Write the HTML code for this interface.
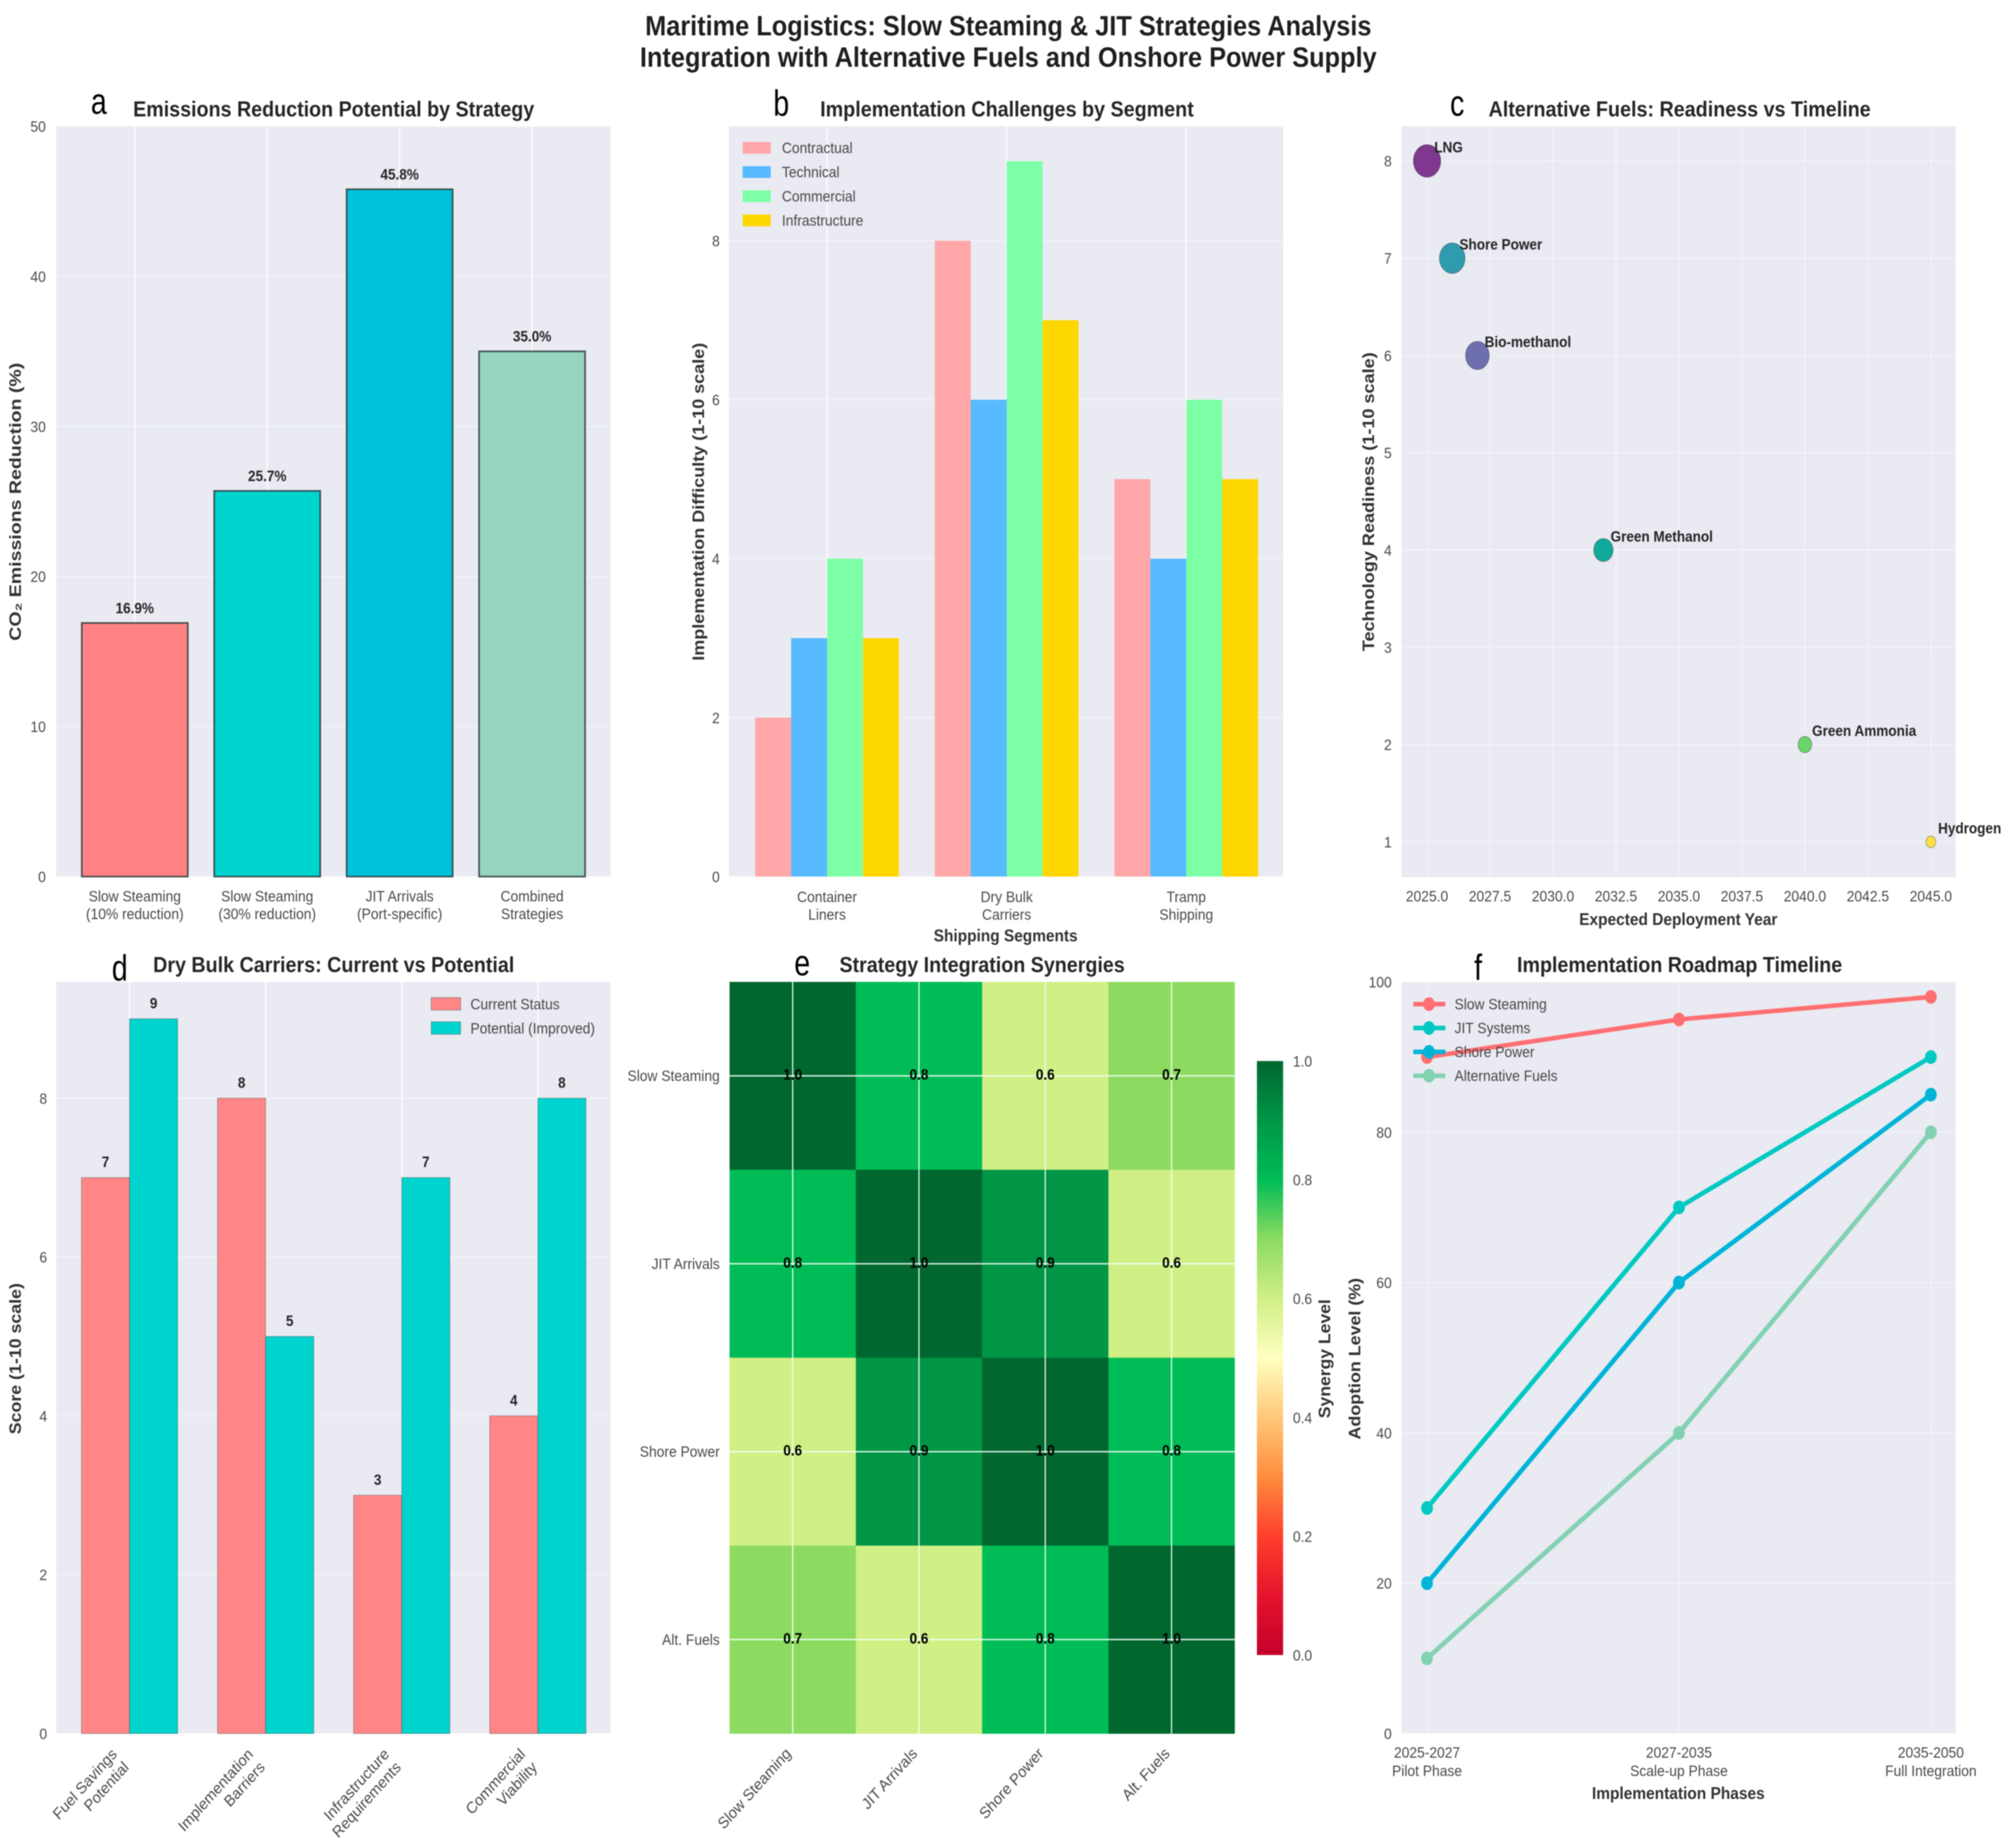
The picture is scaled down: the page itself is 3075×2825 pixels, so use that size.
<!DOCTYPE html>
<html lang="en">
<head>
<meta charset="utf-8">
<title>Maritime Logistics: Slow Steaming &amp; JIT Strategies Analysis</title>
<style>
html,body{margin:0;padding:0;background:#fff;}
svg{display:block;font-family:"Liberation Sans",Arial,sans-serif;filter:blur(0.7px);}
.main{font-size:43px;font-weight:700;fill:#1f1f1f;text-anchor:middle;}
.title{font-size:33px;font-weight:700;fill:#262626;text-anchor:middle;}
.letter{font-size:56px;fill:#000;text-anchor:middle;}
.ylabel{font-size:25px;font-weight:700;fill:#333;text-anchor:middle;}
.xlabel{font-size:26px;font-weight:700;fill:#333;text-anchor:middle;}
.tick{font-size:23.5px;fill:#4a4a4a;}
.rtick{font-size:24.5px;fill:#4a4a4a;}
.val{font-size:23px;font-weight:700;fill:#262626;}
.cell{font-size:23px;font-weight:700;fill:#000;}
</style>
</head>
<body>
<svg id="figure" width="3075" height="2825" viewBox="0 0 3075 2825" xmlns="http://www.w3.org/2000/svg">
  <defs>
    <linearGradient id="cbar-gradient" x1="0" y1="1" x2="0" y2="0"></linearGradient>
  </defs>
  <rect x="0" y="0" width="3075" height="2825" fill="#fff"/>

  <text class="main" x="1541" y="54" textLength="1110" lengthAdjust="spacingAndGlyphs">Maritime Logistics: Slow Steaming &amp; JIT Strategies Analysis</text>
  <text class="main" x="1541" y="102" textLength="1126" lengthAdjust="spacingAndGlyphs">Integration with Alternative Fuels and Onshore Power Supply</text>

  <g id="panel-a">
    <rect x="86" y="193" width="847" height="1147" fill="#e9eaf2"/>
    <text class="letter" transform="translate(151,174) scale(.78,1)">a</text>
    <text class="title" x="510" y="178" textLength="613" lengthAdjust="spacingAndGlyphs">Emissions Reduction Potential by Strategy</text>
    <text class="ylabel" transform="translate(32,767) rotate(-90)" textLength="425" lengthAdjust="spacingAndGlyphs">CO₂ Emissions Reduction (%)</text>
  </g>

  <g id="panel-b">
    <rect x="1114" y="193" width="847" height="1147" fill="#e9eaf2"/>
    <text class="letter" transform="translate(1194,177) scale(.78,1)">b</text>
    <text class="title" x="1539" y="178" textLength="571" lengthAdjust="spacingAndGlyphs">Implementation Challenges by Segment</text>
    <text class="ylabel" transform="translate(1076,767) rotate(-90)" textLength="486" lengthAdjust="spacingAndGlyphs">Implementation Difficulty (1-10 scale)</text>
    <text class="xlabel" x="1537" y="1439" textLength="220" lengthAdjust="spacingAndGlyphs">Shipping Segments</text>
  </g>

  <g id="panel-c">
    <rect x="2142" y="193" width="847" height="1148" fill="#e9eaf2"/>
    <text class="letter" transform="translate(2227,177) scale(.78,1)">c</text>
    <text class="title" x="2567" y="178" textLength="584" lengthAdjust="spacingAndGlyphs">Alternative Fuels: Readiness vs Timeline</text>
    <text class="ylabel" transform="translate(2100,767) rotate(-90)" textLength="457" lengthAdjust="spacingAndGlyphs">Technology Readiness (1-10 scale)</text>
    <text class="xlabel" x="2565" y="1414" textLength="303" lengthAdjust="spacingAndGlyphs">Expected Deployment Year</text>
  </g>

  <g id="panel-d">
    <rect x="86" y="1501" width="847" height="1149" fill="#e9eaf2"/>
    <text class="letter" transform="translate(183,1499) scale(.78,1)">d</text>
    <text class="title" x="510" y="1486" textLength="552" lengthAdjust="spacingAndGlyphs">Dry Bulk Carriers: Current vs Potential</text>
    <text class="ylabel" transform="translate(32,2077) rotate(-90)" textLength="231" lengthAdjust="spacingAndGlyphs">Score (1-10 scale)</text>
  </g>

  <g id="panel-e">
    <text class="letter" transform="translate(1226,1491) scale(.78,1)">e</text>
    <text class="title" x="1501" y="1486" textLength="436" lengthAdjust="spacingAndGlyphs">Strategy Integration Synergies</text>
    <rect x="1921" y="1622" width="40" height="908" fill="url(#cbar-gradient)"/>
    <text class="ylabel" transform="translate(2033,2077) rotate(-90)" textLength="182" lengthAdjust="spacingAndGlyphs">Synergy Level</text>
  </g>

  <g id="panel-f">
    <rect x="2142" y="1501" width="847" height="1149" fill="#e9eaf2"/>
    <text class="letter" transform="translate(2259,1498) scale(.78,1)">f</text>
    <text class="title" x="2567" y="1486" textLength="497" lengthAdjust="spacingAndGlyphs">Implementation Roadmap Timeline</text>
    <text class="ylabel" transform="translate(2079,2077) rotate(-90)" textLength="247" lengthAdjust="spacingAndGlyphs">Adoption Level (%)</text>
    <text class="xlabel" x="2565" y="2750" textLength="264" lengthAdjust="spacingAndGlyphs">Implementation Phases</text>
  </g>
</svg>

<script>
/* ---------- panel a data ---------- */
const strategyLabels = [["Slow Steaming","(10% reduction)"],["Slow Steaming","(30% reduction)"],["JIT Arrivals","(Port-specific)"],["Combined","Strategies"]];
const strategyReduction = [16.9, 25.7, 45.8, 35.0];
const strategyPrinted = ["16.9%","25.7%","45.8%","35.0%"];
const reductionTicks = [0,10,20,30,40,50];

/* ---------- panel b data ---------- */
const segmentLabels = [["Container","Liners"],["Dry Bulk","Carriers"],["Tramp","Shipping"]];
const challengeNames = ["Contractual","Technical","Commercial","Infrastructure"];
const contractualValues = [2,8,5];
const technicalValues = [3,6,4];
const commercialValues = [4,9,6];
const infrastructureValues = [3,7,5];
const difficultyTicks = [0,2,4,6,8];

/* ---------- panel c data ---------- */
const fuelNames = ["LNG","Shore Power","Bio-methanol","Green Methanol","Green Ammonia","Hydrogen"];
const fuelYears = [2025,2026,2027,2032,2040,2045];
const fuelReadiness = [8,7,6,4,2,1];
const yearTicks = [2025,2027.5,2030,2032.5,2035,2037.5,2040,2042.5,2045];
const readinessTicks = [1,2,3,4,5,6,7,8];

/* ---------- panel d data ---------- */
const bulkLabels = [["Fuel Savings","Potential"],["Implementation","Barriers"],["Infrastructure","Requirements"],["Commercial","Viability"]];
const bulkSeriesNames = ["Current Status","Potential (Improved)"];
const bulkCurrent = [7,8,3,4];
const bulkPotential = [9,5,7,8];
const scoreTicks = [0,2,4,6,8];

/* ---------- panel e data ---------- */
const synergyLabels = ["Slow Steaming","JIT Arrivals","Shore Power","Alt. Fuels"];
const synergyRow1 = [1.0,0.8,0.6,0.7];
const synergyRow2 = [0.8,1.0,0.9,0.6];
const synergyRow3 = [0.6,0.9,1.0,0.8];
const synergyRow4 = [0.7,0.6,0.8,1.0];
const colorbarTicks = [0,0.2,0.4,0.6,0.8,1.0];

/* ---------- panel f data ---------- */
const phaseLabels = [["2025-2027","Pilot Phase"],["2027-2035","Scale-up Phase"],["2035-2050","Full Integration"]];
const roadmapNames = ["Slow Steaming","JIT Systems","Shore Power","Alternative Fuels"];
const roadmapSlow = [90,95,98];
const roadmapJit = [30,70,90];
const roadmapShore = [20,60,85];
const roadmapAlt = [10,40,80];
const adoptionTicks = [0,20,40,60,80,100];

/* ---------- helpers ---------- */
const NS = "http://www.w3.org/2000/svg";
const SX = 0.9;
function node(parent, tag, attrs) {
  const n = document.createElementNS(NS, tag);
  for (const k in attrs) n.setAttribute(k, attrs[k]);
  parent.appendChild(n);
  return n;
}
function label(parent, x, y, str, cls, anchor, rot) {
  const tf = "translate(" + x + "," + y + ") scale(" + SX + ",1)" + (rot ? " rotate(" + rot + ")" : "");
  const n = node(parent, "text", { transform: tf, "class": cls, "text-anchor": anchor || "middle" });
  n.textContent = str;
  return n;
}
const pa = document.getElementById("panel-a");
const pb = document.getElementById("panel-b");
const pc = document.getElementById("panel-c");
const pd = document.getElementById("panel-d");
const pe = document.getElementById("panel-e");
const pf = document.getElementById("panel-f");

/* ---------- axis functions ---------- */
const xA = i => 206 + 202.4 * i;
const yA = v => 1340 - v / 50 * 1147;
const xB = i => 1264 + 274.5 * i;
const yB = v => 1340 - v * 121.5;
const xC = yr => 2181 + 38.5 * (yr - 2025);
const yC = v => 246 + (8 - v) * 148.7;
const xD = i => 198 + 208 * i;
const yD = v => 2650 - v * 121.4;
const xE = i => 1115 + 193 * i;
const yE = i => 1501 + 287.25 * i;
const yBar = v => 2530 - v * 908;
const xF = i => 2181 + 385 * i;
const yF = v => 2650 - v * 11.49;

/* ---------- colormap for synergy ---------- */
const cmapColors = ["#c4002a","#e5132c","#ff3f2c","#ff8c3c","#ffc878","#ffffc0","#d0ef85","#8cdb60","#00bc56","#009646","#00672f"];
function hex2(c){return [1,3,5].map(i=>parseInt(c.substr(i,2),16));}
function cmap(v){
  const p = Math.max(0,Math.min(1,v)) * (cmapColors.length-1);
  const i = Math.min(Math.floor(p), cmapColors.length-2);
  const f = p - i;
  const a = hex2(cmapColors[i]), b = hex2(cmapColors[i+1]);
  return "rgb(" + a.map((c,k)=>Math.round(c+(b[k]-c)*f)).join(",") + ")";
}
const grad = document.getElementById("cbar-gradient");
cmapColors.forEach((c,i)=>{
  node(grad,"stop",{offset:(i/(cmapColors.length-1)),"stop-color":c});
});

/* ---------- panel a ---------- */
reductionTicks.forEach(v=>{
  const g = node(pa,"line",{x1:86,x2:933,y1:yA(v),y2:yA(v),stroke:"#fff","stroke-width":1.5,"stroke-opacity":.55});
  
  
  const t = label(pa,70,yA(v)+8.5,String(v),"tick","end");
  
  
});
const strategyColors = ["#ff8385","#00d4ce","#00c3db","#97d4c0"];
strategyReduction.forEach((v,i)=>{
  const g = node(pa,"line",{x1:xA(i),x2:xA(i),y1:193,y2:1340,stroke:"#fff","stroke-width":2});
  
  
  const b = node(pa,"rect",{x:xA(i)-81,y:yA(v),width:162,height:yA(0)-yA(v),fill:strategyColors[i],stroke:"#2c3a3a","stroke-width":2.5,"stroke-opacity":.85});
  
  
  const p = label(pa,xA(i),yA(v)-15,strategyPrinted[i],"val");
  
  
  strategyLabels[i].forEach((line,k)=>{
    const t = label(pa,xA(i),1378+27*k,line,"tick");
    
    
  });
});

/* ---------- panel b ---------- */
difficultyTicks.forEach(v=>{
  const g = node(pb,"line",{x1:1114,x2:1961,y1:yB(v),y2:yB(v),stroke:"#fff","stroke-width":1.5,"stroke-opacity":.55});
  
  
  const t = label(pb,1100,yB(v)+8.5,String(v),"tick","end");
  
  
});
segmentLabels.forEach((lines,i)=>{
  const g = node(pb,"line",{x1:xB(i),x2:xB(i),y1:193,y2:1340,stroke:"#fff","stroke-width":2});
  
  
  lines.forEach((line,k)=>{
    const t = label(pb,xB(i),1379+27*k,line,"tick");
    
    
  });
});
const challengeSeries = [contractualValues,technicalValues,commercialValues,infrastructureValues];
const challengeColors = ["#ffa7a9","#58baff","#7dffa6","#ffd700"];
const bw = 54.9;
challengeSeries.forEach((vals,s)=>{
  vals.forEach((v,i)=>{
    const b = node(pb,"rect",{x:xB(i)+(s-2)*bw,y:yB(v),width:bw,height:yB(0)-yB(v),fill:challengeColors[s]});
    
    
  });
  const sw = node(pb,"rect",{x:1135,y:217+37*s,width:43,height:18,fill:challengeColors[s]});
  
  
  const t = label(pb,1195,234+37*s,challengeNames[s],"tick","start");
  
  
});

/* ---------- panel c ---------- */
readinessTicks.forEach(v=>{
  const g = node(pc,"line",{x1:2142,x2:2989,y1:yC(v),y2:yC(v),stroke:"#fff","stroke-width":1.5,"stroke-opacity":.5});
  
  
  const t = label(pc,2127,yC(v)+8.5,String(v),"tick","end");
  
  
});
yearTicks.forEach(v=>{
  const g = node(pc,"line",{x1:xC(v),x2:xC(v),y1:193,y2:1341,stroke:"#fff","stroke-width":1.5,"stroke-opacity":.5});
  
  
  const t = label(pc,xC(v),1378,v.toFixed(1),"tick");
  
  
});
const fuelColors = ["#7f3790","#2e9baf","#6e6fae","#10a99a","#6bd46b","#fce045"];
fuelNames.forEach((name,i)=>{
  const r = Math.sqrt(fuelReadiness[i]);
  const m = node(pc,"ellipse",{cx:xC(fuelYears[i]),cy:yC(fuelReadiness[i]),rx:7.4*r,ry:8.8*r,fill:fuelColors[i],stroke:"#333","stroke-width":1,"stroke-opacity":.5});
  
  
});
fuelNames.forEach((name,i)=>{
  const t = label(pc,xC(fuelYears[i])+11,yC(fuelReadiness[i])-13,name,"val","start");
  
  
});

/* ---------- panel d ---------- */
scoreTicks.forEach(v=>{
  const g = node(pd,"line",{x1:86,x2:933,y1:yD(v),y2:yD(v),stroke:"#fff","stroke-width":1.5,"stroke-opacity":.55});
  
  
  const t = label(pd,72,yD(v)+8.5,String(v),"tick","end");
  
  
});
const dw = 73.5;
const bulkColors = ["#ff8587","#00d4ce"];
[bulkCurrent,bulkPotential].forEach((vals,s)=>{
  vals.forEach((v,i)=>{
    if (s===0) {
      const g = node(pd,"line",{x1:xD(i),x2:xD(i),y1:1501,y2:2650,stroke:"#fff","stroke-width":2});
      
      
    }
  });
});
[bulkCurrent,bulkPotential].forEach((vals,s)=>{
  vals.forEach((v,i)=>{
    const b = node(pd,"rect",{x:xD(i)+(s-1)*dw,y:yD(v),width:dw,height:yD(0)-yD(v),fill:bulkColors[s],stroke:"#555","stroke-width":1.2,"stroke-opacity":.5});
    
    
    const t = label(pd,xD(i)+(s-0.5)*dw,yD(v)-16,String(v),"val");
    
    
  });
  const sw = node(pd,"rect",{x:659,y:1525+37*s,width:45,height:19,fill:bulkColors[s],stroke:"#555","stroke-width":1.2,"stroke-opacity":.5});
  
  
  const t = label(pd,719,1543+37*s,bulkSeriesNames[s],"tick","start");
  
  
});
bulkLabels.forEach((lines,i)=>{
  lines.forEach((line,k)=>{
    const t = label(pd,xD(i)-18+18*k,2683+20*k,line,"rtick","end",-45);
    
    
  });
});

/* ---------- panel e ---------- */
const synergyMatrix = [synergyRow1,synergyRow2,synergyRow3,synergyRow4];
synergyMatrix.forEach((row,r)=>{
  row.forEach((v,c)=>{
    const cell = node(pe,"rect",{x:xE(c),y:yE(r),width:193.2,height:287.6,fill:cmap(v)});
    
    
  });
});
synergyLabels.forEach((name,i)=>{
  const v = node(pe,"line",{x1:xE(i)+96.5,x2:xE(i)+96.5,y1:1501,y2:2650,stroke:"#f4fff8","stroke-width":2,"stroke-opacity":.85});
  
  
  const h = node(pe,"line",{x1:1115,x2:1887,y1:yE(i)+143.6,y2:yE(i)+143.6,stroke:"#f4fff8","stroke-width":2.2,"stroke-opacity":.85});
  
  
  const ty = label(pe,1100,yE(i)+143.6+8,name,"tick","end");
  
  
  const tx = label(pe,xE(i)+95,2682,name,"rtick","end",-45);
  
  
});
synergyMatrix.forEach((row,r)=>{
  row.forEach((v,c)=>{
    const t = label(pe,xE(c)+96.5,yE(r)+143.6+6,v.toFixed(1),"cell");
    
    
  });
});
colorbarTicks.forEach(v=>{
  const t = label(pe,1976,yBar(v)+8.5,v.toFixed(1),"tick","start");
  
  
});

/* ---------- panel f ---------- */
adoptionTicks.forEach(v=>{
  const g = node(pf,"line",{x1:2142,x2:2989,y1:yF(v),y2:yF(v),stroke:"#fff","stroke-width":1.5,"stroke-opacity":.5});
  
  
  const t = label(pf,2127,yF(v)+8.5,String(v),"tick","end");
  
  
});
phaseLabels.forEach((lines,i)=>{
  const g = node(pf,"line",{x1:xF(i),x2:xF(i),y1:1501,y2:2650,stroke:"#fff","stroke-width":1.5,"stroke-opacity":.5});
  
  
  lines.forEach((line,k)=>{
    const t = label(pf,xF(i),2687+28*k,line,"tick");
    
    
  });
});
const roadmapSeries = [roadmapSlow,roadmapJit,roadmapShore,roadmapAlt];
const roadmapColors = ["#ff6f72","#00c9c2","#00b4d8","#82d2b2"];
roadmapSeries.forEach((vals,s)=>{
  const pts = vals.map((v,i)=>xF(i)+","+yF(v)).join(" ");
  const l = node(pf,"polyline",{points:pts,fill:"none",stroke:roadmapColors[s],"stroke-width":7,"stroke-linejoin":"round"});
  
  
  vals.forEach((v,i)=>{
    const m = node(pf,"ellipse",{cx:xF(i),cy:yF(v),rx:9,ry:10.5,fill:roadmapColors[s]});
    
    
  });
});
roadmapNames.forEach((name,s)=>{
  const ly = 1535 + 36.5*s;
  const hl = node(pf,"line",{x1:2160,x2:2209,y1:ly,y2:ly,stroke:roadmapColors[s],"stroke-width":7});
  
  
  const hm = node(pf,"ellipse",{cx:2184,cy:ly,rx:9,ry:10.5,fill:roadmapColors[s]});
  
  
  const t = label(pf,2223,ly+8,name,"tick","start");
  
  
});
</script>
</body>
</html>
